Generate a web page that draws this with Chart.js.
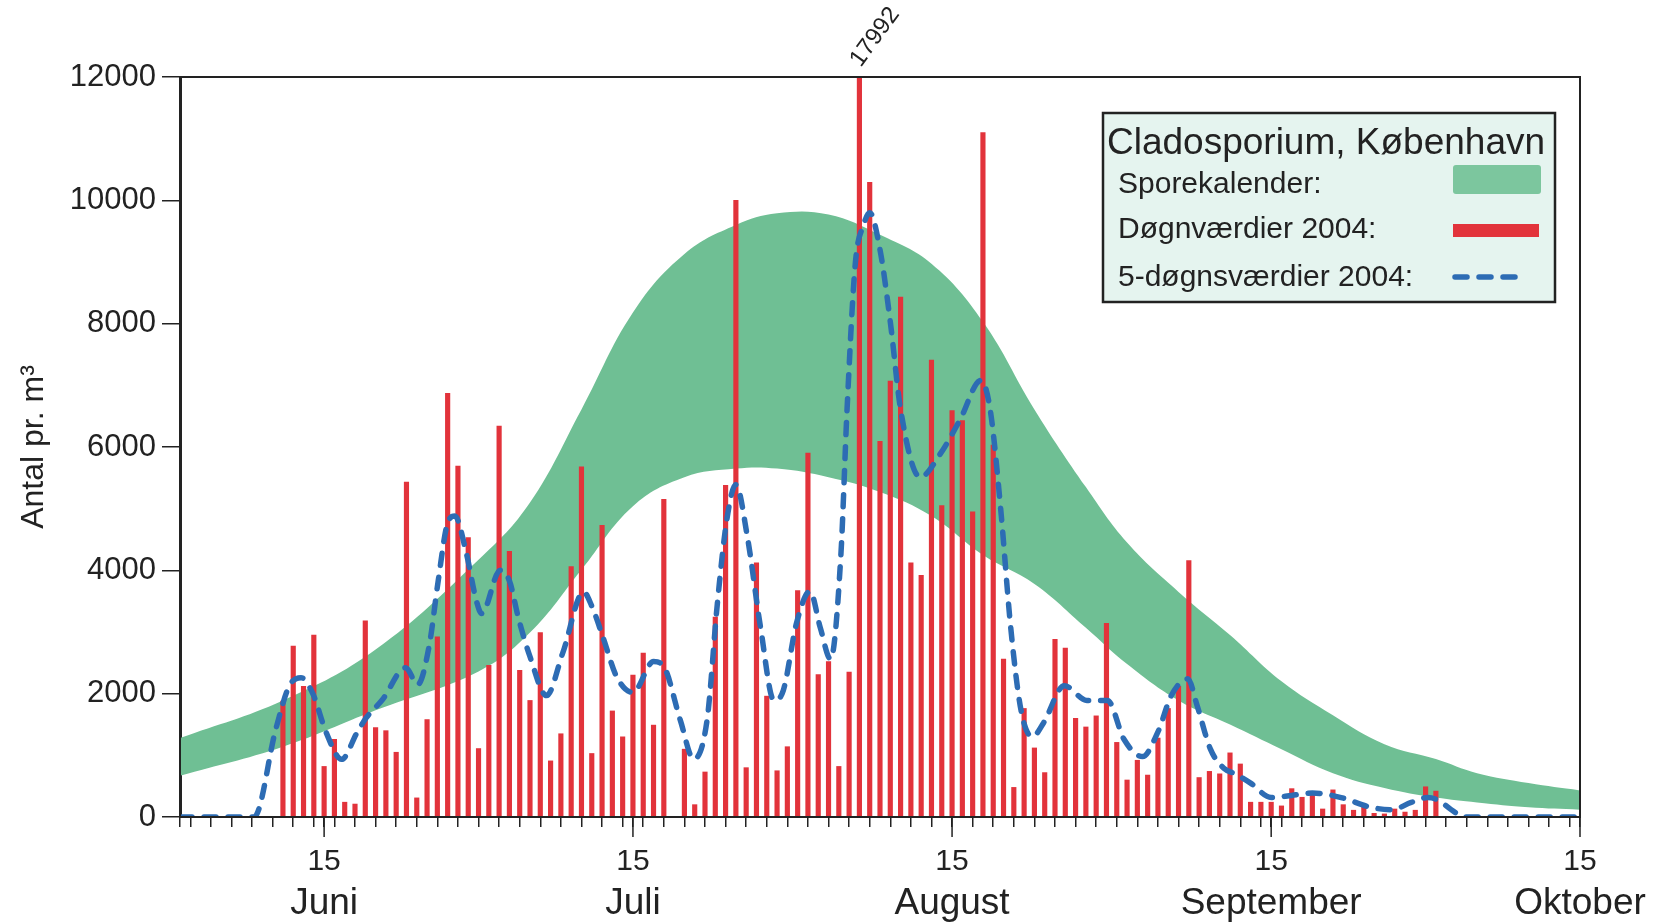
<!DOCTYPE html>
<html>
<head>
<meta charset="utf-8">
<script src="https://cdn.jsdelivr.net/npm/chart.js@4.4.1/dist/chart.umd.min.js"></script>
<style>
html, body { margin: 0; padding: 0; background: #fff; }
#wrap { width: 1665px; height: 923px; position: relative; }
</style>
</head>
<body>
<div id="wrap"><canvas id="graph"></canvas></div>
<script>
// dag 0 = 1. juni 2004, dag 136 = 15. oktober
const dognDage = [];
for (let d = 0; d <= 136; d++) dognDage.push(d);

// døgnværdier 2004 (antal pr. m3)
const dognvaerdier = [
    0, 0, 0, 0, 0, 0, 0, 0, 0, 0,
    1880, 2770, 2120, 2950, 820, 1260, 240, 210, 3180, 1450,
    1400, 1050, 5430, 310, 1580, 2920, 6870, 5690, 4530, 1110,
    2460, 6340, 4310, 2380, 1890, 2990, 910, 1350, 4060, 5680,
    1030, 4730, 1720, 1300, 2300, 2660, 1490, 5150, 0, 1100,
    200, 730, 3240, 5380, 10000, 800, 4120, 1960, 750, 1140,
    3670, 5900, 2310, 2520, 820, 2350, 17992, 10290, 6090, 7070,
    8430, 4120, 3920, 7410, 5050, 6590, 6430, 4950, 11100, 6030,
    2560, 480, 1760, 1120, 720, 2880, 2740, 1600, 1460, 1640,
    3140, 1210, 600, 920, 680, 1280, 1760, 2120, 4160, 640,
    740, 700, 1040, 860, 240, 240, 240, 180, 460, 320,
    400, 130, 440, 200, 110, 180, 60, 50, 130, 80,
    110, 490, 420, 0, 0, 0, 0, 0, 0, 0,
    0, 0, 0, 0, 0, 0, 0
];

// 5-døgnsværdier 2004
const femDage = [0, 7.2, 9.3, 10.6, 11.75, 12.9, 14.2, 15.7, 17.2, 18.1, 19.7, 21.9, 23.1, 24.2, 25.1, 26, 26.7, 27.8, 28.8, 29.3,
    31.1, 32, 32.9, 34, 35.6, 37.2, 39.2, 40, 41.1, 42.4, 44, 46, 47, 48.6, 49.9, 51.2, 52.2, 53.1, 54, 55.1,
    56.4, 57.7, 58.6, 59.9, 61.2, 62.2, 63.2, 64.2, 64.8, 65.6, 66.4, 67, 68, 69, 70, 71.9, 73.9, 75.8, 77.8, 78.7,
    79.7, 80.7, 81.7, 82.8, 83.9, 85.9, 88.1, 90.1, 91.7, 93.5, 95, 96.3, 97.9, 98.8, 100.1, 101.4, 102.5, 104, 106, 108,
    110, 112.8, 115.7, 117.7, 119.6, 121.2, 122.2, 123.5, 124.8, 136];
const femVaerdier = [0, 0, 1420, 2120, 2260, 2000, 1370, 935, 1370, 1610, 1910, 2420, 2150, 2770, 3850, 4770, 4880, 4290, 3500, 3300,
    4000, 3830, 3210, 2600, 1970, 2670, 3650, 3420, 2910, 2280, 2020, 2520, 2440, 1570, 940, 1570, 3460, 4800, 5390, 4560,
    3070, 1890, 2050, 3150, 3660, 3070, 2560, 4250, 6610, 8970, 9600, 9800, 9200, 8030, 6610, 5510, 5900, 6450, 7080, 6610,
    5040, 3070, 1730, 1300, 1530, 2130, 1890, 1890, 1260, 980, 1380, 1970, 2240, 1810, 1100, 790, 700, 550, 315, 350,
    390, 315, 157, 118, 236, 315, 276, 118, 0, 0];

// sporekalender (grønt bånd): nedre og øvre grænse
const kalenderDage  = [0, 10, 19, 29, 34, 39, 44, 49, 54, 58, 63, 68, 73, 78, 83, 88, 92, 97, 102, 107, 112, 117, 122, 126, 131, 136];
const kalenderNedre = [670, 1140, 1730, 2360, 2990, 4010, 5040, 5510, 5650, 5650, 5510, 5270, 4880, 4250, 3780, 3070, 2480, 1890, 1500, 1100, 710, 470, 315, 236, 157, 118];
const kalenderOevre = [1280, 1890, 2715, 4170, 5100, 6610, 8180, 9130, 9600, 9790, 9770, 9440, 8970, 8030, 6610, 5350, 4450, 3650, 2950, 2200, 1650, 1180, 940, 710, 550, 430];

const maanedDage  = [14, 44, 75, 106, 136];
const maanedNavne = ['Juni', 'Juli', 'August', 'September', 'Oktober'];
const yTicks = [0, 2000, 4000, 6000, 8000, 10000, 12000];
const topDag = 66;

const groen = '#6fbf94';
const roed  = '#e2333b';
const blaa  = '#2d6cb4';
const sort  = '#222';
const skrift = "'Liberation Sans', Arial, sans-serif";

// små streger hver anden dag + de lange ved den 15.
const smaaTicks = [];
for (let d = 1; d < 136; d += 2) smaaTicks.push(d);
const xTicks = [...new Set([0, ...smaaTicks, ...maanedDage])].sort((a, b) => a - b);

const punkter = (xs, ys) => xs.map((x, i) => ({ x: x, y: ys[i] }));

const ramme = {
    id: 'ramme',
    afterDatasetsDraw(chart) {
        const { ctx, chartArea: a, scales } = chart;
        ctx.save();
        ctx.strokeStyle = sort;
        ctx.lineWidth = 2;
        ctx.strokeRect(a.left, a.top, a.right - a.left, a.bottom - a.top);
        ctx.lineWidth = 1.5;
        maanedDage.forEach(d => {
            const x = scales.x.getPixelForValue(d);
            ctx.beginPath();
            ctx.moveTo(x, a.bottom);
            ctx.lineTo(x, a.bottom + 20);
            ctx.stroke();
        });
        ctx.restore();
    },
    afterDraw(chart) {
        const { ctx, chartArea: a, scales } = chart;
        ctx.save();

        // værdien for den afskårne søjle
        const xb = scales.x.getPixelForValue(topDag);
        ctx.translate(xb - 4, a.top - 13);
        ctx.rotate(-Math.PI * 0.30);
        ctx.fillStyle = sort;
        ctx.font = '24px ' + skrift;
        ctx.textAlign = 'left';
        ctx.textBaseline = 'middle';
        ctx.fillText(String(dognvaerdier[topDag]), 0, 0);
        ctx.setTransform(1, 0, 0, 1, 0, 0);

        // forklaring
        ctx.fillStyle = '#e5f4ef';
        ctx.fillRect(1103, 113, 452, 189);
        ctx.strokeStyle = sort;
        ctx.lineWidth = 2.5;
        ctx.strokeRect(1103, 113, 452, 189);

        ctx.fillStyle = sort;
        ctx.textAlign = 'left';
        ctx.textBaseline = 'alphabetic';
        ctx.font = '37px ' + skrift;
        ctx.fillText('Cladosporium, København', 1107, 154, 444);
        ctx.font = '30px ' + skrift;
        ctx.fillText('Sporekalender:', 1118, 193);
        ctx.fillText('Døgnværdier 2004:', 1118, 238);
        ctx.fillText('5-døgnsværdier 2004:', 1118, 286);

        ctx.fillStyle = '#7cc69e';
        ctx.beginPath();
        ctx.roundRect(1453, 165, 88, 29, 3);
        ctx.fill();
        ctx.fillStyle = roed;
        ctx.fillRect(1453, 224, 86, 13);
        ctx.strokeStyle = blaa;
        ctx.lineWidth = 5.5;
        ctx.lineCap = 'round';
        ctx.setLineDash([12, 12]);
        ctx.beginPath();
        ctx.moveTo(1455, 277);
        ctx.lineTo(1518, 277);
        ctx.stroke();
        ctx.restore();
    }
};

Chart.defaults.font.family = skrift;
Chart.defaults.color = sort;

const ctx = document.getElementById('graph').getContext('2d');
const myChart = new Chart(ctx, {
    type: 'bar',
    data: {
        datasets: [
            {
                type: 'line',
                label: 'nedre',
                data: punkter(kalenderDage, kalenderNedre),
                borderColor: 'transparent',
                borderWidth: 0,
                pointRadius: 0,
                fill: false,
                tension: 0.4,
                order: 3
            },
            {
                type: 'line',
                label: 'Sporekalender',
                data: punkter(kalenderDage, kalenderOevre),
                borderColor: 'transparent',
                borderWidth: 0,
                pointRadius: 0,
                backgroundColor: groen,
                fill: '-1',
                tension: 0.4,
                order: 3
            },
            {
                type: 'bar',
                label: 'Døgnværdier 2004',
                data: punkter(dognDage, dognvaerdier),
                backgroundColor: roed,
                borderWidth: 0,
                barThickness: 4.5,
                order: 2
            },
            {
                type: 'line',
                label: '5-døgnsværdier 2004',
                data: punkter(femDage, femVaerdier),
                borderColor: blaa,
                borderWidth: 5.5,
                borderDash: [12, 12],
                borderCapStyle: 'round',
                pointRadius: 0,
                fill: false,
                cubicInterpolationMode: 'monotone',
                order: 1
            }
        ]
    },
    options: {
        responsive: true,
        maintainAspectRatio: false,
        animation: false,
        events: [],
        layout: { padding: { left: 0, right: 85, top: 77, bottom: 0 }, autoPadding: false },
        plugins: { legend: { display: false }, tooltip: { enabled: false } },
        scales: {
            x: {
                type: 'linear',
                position: 'bottom',
                weight: 0,
                min: 0,
                max: 136,
                offset: false,
                grid: { drawOnChartArea: false, offset: false, tickLength: 10, color: sort, lineWidth: 1.5 },
                border: { display: true, color: sort, width: 2 },
                afterBuildTicks: s => { s.ticks = xTicks.map(v => ({ value: v })); },
                afterFit: s => { s.height = 62; },
                ticks: {
                    autoSkip: false,
                    maxRotation: 0,
                    padding: 17,
                    font: { size: 30 },
                    callback: v => (maanedDage.includes(v) ? '15' : '')
                }
            },
            xm: {
                type: 'linear',
                position: 'bottom',
                weight: 1,
                min: 0,
                max: 136,
                offset: false,
                grid: { display: false, drawTicks: false },
                border: { display: false },
                afterBuildTicks: s => { s.ticks = maanedDage.map(v => ({ value: v })); },
                afterFit: s => { s.height = 44; },
                ticks: {
                    autoSkip: false,
                    maxRotation: 0,
                    padding: 3,
                    font: { size: 37 },
                    callback: v => maanedNavne[maanedDage.indexOf(v)]
                }
            },
            y: {
                min: 0,
                max: 12000,
                afterBuildTicks: s => { s.ticks = yTicks.map(v => ({ value: v })); },
                afterFit: s => { s.width = 180; },
                grid: { drawOnChartArea: false, tickLength: 18, color: sort, lineWidth: 1.5 },
                border: { color: sort, width: 3 },
                ticks: { padding: 6, font: { size: 31 }, callback: v => String(v) },
                title: { display: true, text: 'Antal pr. m³', font: { size: 32 }, padding: { top: 15, bottom: 0 } }
            }
        }
    },
    plugins: [ramme]
});
</script>
</body>
</html>
